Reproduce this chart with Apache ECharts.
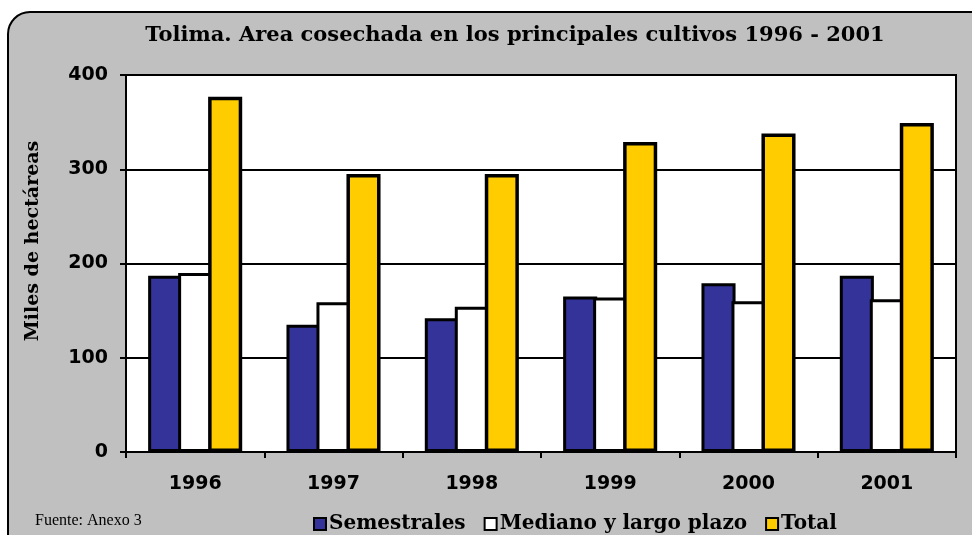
<!DOCTYPE html>
<html><head><meta charset="utf-8">
<script src="https://cdn.jsdelivr.net/npm/echarts@6/dist/echarts.min.js"></script>
<style>html,body{margin:0;padding:0;background:#fff}#c{width:972px;height:535px}</style>
</head><body><div id="c"></div>
<script>
const categories = ['1996','1997','1998','1999','2000','2001'];
const semestrales = [187, 135, 142, 165, 179, 187];
const medianoLargo = [190, 159, 154, 164, 160, 162];
const total = [377, 295, 295, 329, 338, 349];
const yTicks = [0, 100, 200, 300, 400];

const chart = echarts.init(document.getElementById('c'));
const common = {type:'bar', barGap:'-12%', barCategoryGap:'32%'};
chart.setOption({
  animation: false,
  graphic: [
    {type:'rect', z:-10, shape:{x:8,y:12,width:990,height:560,r:22}, style:{fill:'#c0c0c0', stroke:'#000', lineWidth:2}},
    {type:'text', left:35, top:513, style:{text:'Fuente: Anexo 3', font:'16px "Liberation Serif"', fill:'#000'}},
    {type:'text', x:33, y:241, rotation:Math.PI/2, style:{text:'Miles de hectáreas', font:'bold 19px "DejaVu Serif"', fill:'#000', align:'center', verticalAlign:'middle'}}
  ],
  title: {
    text: 'Tolima. Area cosechada en los principales cultivos 1996 - 2001',
    left: 510, top: 20, textAlign: 'center',
    textStyle: {fontFamily: 'DejaVu Serif', fontWeight: 'bold', fontSize: 21, color: '#000'}
  },
  legend: {
    left: 308, top: 509, itemWidth: 12, itemHeight: 12, itemGap: 18, icon: 'rect',
    textStyle: {fontFamily: 'DejaVu Serif', fontWeight: 'bold', fontSize: 20, color: '#000', padding:[0,0,0,-2]},
    itemStyle: {borderColor:'#000', borderWidth:2},
    data: ['Semestrales','Mediano y largo plazo','Total']
  },
  grid: {left:126, top:75, right:16, bottom:83, show:true, backgroundColor:'#fff', borderColor:'#000', borderWidth:2},
  xAxis: {
    type:'category', data: categories,
    axisLine:{lineStyle:{color:'#000', width:2}},
    axisTick:{show:true, length:6, inside:false, lineStyle:{color:'#000', width:2}},
    axisLabel:{fontFamily:'DejaVu Sans', fontWeight:'bold', fontSize:19, color:'#000', margin:23}
  },
  yAxis: {
    type:'value', min: yTicks[0], max: yTicks[yTicks.length-1], interval: 100,
    axisLine:{show:true, lineStyle:{color:'#000', width:2}},
    axisTick:{show:true, length:6, lineStyle:{color:'#000', width:2}},
    splitLine:{show:true, lineStyle:{color:'#000', width:2}},
    axisLabel:{fontFamily:'DejaVu Sans', fontWeight:'bold', fontSize:19, color:'#000', margin:18}
  },
  series: [
    Object.assign({name:'Semestrales', data: semestrales, itemStyle: {color:'#333399', borderColor:'#000', borderWidth:3}}, common),
    Object.assign({name:'Mediano y largo plazo', data: medianoLargo, itemStyle: {color:'#ffffff', borderColor:'#000', borderWidth:3}}, common),
    Object.assign({name:'Total', data: total, itemStyle: {color:'#ffcc00', borderColor:'#000', borderWidth:3.5}}, common)
  ]
});
</script></body></html>
